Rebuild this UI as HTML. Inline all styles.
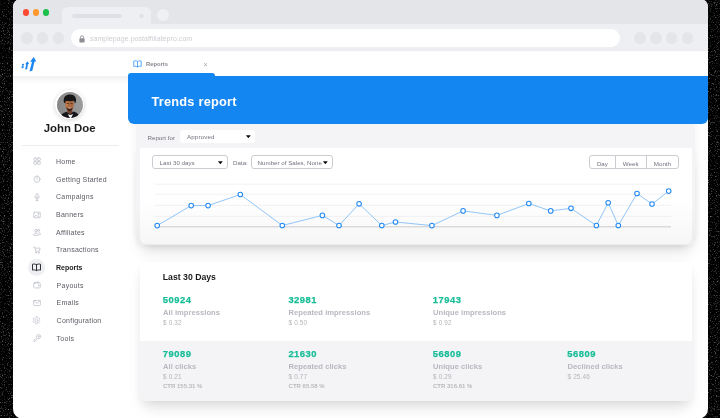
<!DOCTYPE html>
<html>
<head>
<meta charset="utf-8">
<style>
*{box-sizing:border-box;margin:0;padding:0}
html,body{width:720px;height:418px;overflow:hidden;background:#000;font-family:"Liberation Sans",sans-serif;}
#win{position:absolute;left:13px;top:-1px;width:694.8px;height:420px;border-radius:8px 8px 10px 10px;background:#fff;overflow:hidden;}
#in{will-change:transform;position:absolute;left:-13px;top:1px;width:720px;height:418px;}
.a{position:absolute;}
.c{position:absolute;border-radius:50%;}
.t{position:absolute;white-space:nowrap;line-height:1;}
.mi{position:absolute;left:56px;font-size:7px;letter-spacing:.25px;color:#5a5c63;white-space:nowrap;line-height:8px;height:8px;}
.ic{position:absolute;left:32.5px;width:8px;height:8px;overflow:visible;}
.ic *{fill:none;stroke:#bec0ca;stroke-width:.85;stroke-linecap:round;stroke-linejoin:round}
.num{position:absolute;font-weight:bold;font-size:9.4px;letter-spacing:.5px;color:#17bd97;-webkit-text-stroke:.25px #17bd97;line-height:10px;white-space:nowrap;}
.lab{position:absolute;font-weight:bold;font-size:7.6px;letter-spacing:.03px;color:#b7b9c1;line-height:9px;white-space:nowrap;}
.sm{position:absolute;font-size:6.4px;letter-spacing:.15px;color:#b6b6ba;line-height:7px;white-space:nowrap;}
.sel{position:absolute;border:.75px solid #cbccd2;border-radius:3px;background:#fff;font-size:6.2px;color:#70737c;line-height:12.6px;padding-top:.9px;white-space:nowrap;}
</style>
</head>
<body>
<svg style="position:absolute;left:0;top:0" width="720" height="418"><defs><filter id="nz" x="0" y="0" width="100%" height="100%" color-interpolation-filters="sRGB"><feTurbulence type="fractalNoise" baseFrequency=".85" numOctaves="2" seed="7" result="t"/><feColorMatrix in="t" type="matrix" values="0 0 0 0 .42  0 0 0 0 .42  0 0 0 0 .42  3.2 0 0 0 -1.76"/></filter></defs><rect width="720" height="418" filter="url(#nz)"/></svg>
<div id="win"><div id="in">

<!-- browser chrome -->
<div class="a" style="left:0;top:-2px;width:720px;height:25.7px;background:#e4e5e9"></div>
<div class="a" style="left:0;top:23.7px;width:720px;height:27.8px;background:#eeeff3"></div>
<div class="a" style="left:62px;top:7px;width:89px;height:17px;background:#eeeff3;border-radius:6px 6px 0 0"></div>
<div class="a" style="left:72.3px;top:14.2px;width:49.7px;height:3.4px;border-radius:2px;background:#dfe0e5"></div>
<div class="c" style="left:139.4px;top:13.7px;width:4.4px;height:4.4px;background:#e1e2e7"></div>
<div class="c" style="left:157.3px;top:8.8px;width:11.8px;height:11.8px;background:#eff0f3"></div>
<div class="c" style="left:22.7px;top:9.1px;width:6.6px;height:6.6px;background:#fe4a32"></div>
<div class="c" style="left:32.7px;top:9.1px;width:6.6px;height:6.6px;background:#fe982d"></div>
<div class="c" style="left:42.5px;top:9.1px;width:6.6px;height:6.6px;background:#1dc14a"></div>
<div class="c" style="left:20.8px;top:32.3px;width:11.8px;height:11.8px;background:#e4e5e9"></div>
<div class="c" style="left:36.6px;top:32.3px;width:11.8px;height:11.8px;background:#e4e5e9"></div>
<div class="c" style="left:52.5px;top:32.3px;width:11.8px;height:11.8px;background:#e4e5e9"></div>
<div class="a" style="left:71px;top:29.2px;width:549px;height:18.3px;border-radius:9.2px;background:#fff"></div>
<svg class="a" style="left:78.9px;top:34.6px" width="6" height="8" viewBox="0 0 6 8"><rect x="0.4" y="3.2" width="5.2" height="4.2" rx=".6" fill="#8e8f94"/><path d="M1.5 3.4V2.3a1.5 1.5 0 0 1 3 0V3.4" fill="none" stroke="#8e8f94" stroke-width=".9"/></svg>
<div class="t" style="left:90px;top:35.4px;font-size:7px;letter-spacing:.05px;color:#cdced3">samplepage.postaffiliatepro.com</div>
<div class="c" style="left:634.2px;top:32.4px;width:11.6px;height:11.6px;background:#e4e5e9"></div>
<div class="c" style="left:650px;top:32.4px;width:11.6px;height:11.6px;background:#e4e5e9"></div>
<div class="c" style="left:665.8px;top:32.4px;width:11.6px;height:11.6px;background:#e4e5e9"></div>
<div class="c" style="left:681.7px;top:32.4px;width:11.6px;height:11.6px;background:#e4e5e9"></div>

<!-- app header strip -->
<div class="a" style="left:0;top:51.5px;width:720px;height:24.3px;background:#fff;box-shadow:0 3px 7px rgba(0,0,0,.075)"></div>
<svg class="a" style="left:20px;top:56px" width="18" height="17" viewBox="0 0 18 17">
<g fill="#1a86f0">
<path d="M2.100 8.100l2-.300-.3 1.600-2 .3zM1.800 10.300l2-.300-.350 2-2 .3z"/>
<path d="M7.400 5.300L9.100 8.100 8 8.100 7.100 13.200 5.200 13.600 6.200 8.200 5.200 8.300z"/>
<path d="M13.700 1L16.300 5.600 14.500 5.600 12.300 14.800 9.500 15.500 12 5.700 10 5.800z"/>
</g></svg>

<!-- tab -->
<svg class="a" style="left:133px;top:59.6px" width="9" height="8" viewBox="0 0 9 8"><path d="M4.5 1.5C3.6.8 2.2.7.8 1v5.4c1.4-.3 2.8-.2 3.7.5.9-.7 2.3-.8 3.7-.5V1C6.8.7 5.4.8 4.500 1.500zM4.500 1.500V7.400" fill="none" stroke="#2a8ef2" stroke-width=".75" stroke-linejoin="round"/></svg>
<div class="t" style="left:146px;top:61.6px;font-size:5.8px;font-weight:bold;letter-spacing:0;color:#85888f">Reports</div>
<div class="t" style="left:203.4px;top:61px;font-size:7px;color:#a4a6ad">×</div>

<!-- sidebar -->
<div class="c" style="left:55px;top:89.5px;width:29px;height:29px;background:#fff;box-shadow:0 1px 4px rgba(0,0,0,.18)"></div>
<svg class="a" style="left:56.66px;top:91.5px" width="26" height="26" viewBox="0 0 26 26">
<defs><clipPath id="av"><circle cx="13" cy="13" r="13"/></clipPath><filter id="bl" x="-20%" y="-20%" width="140%" height="140%"><feGaussianBlur stdDeviation=".45"/></filter>
<linearGradient id="bgv" x1="0" x2="1"><stop offset="0" stop-color="#868686"/><stop offset="1" stop-color="#9c9c9c"/></linearGradient></defs>
<g clip-path="url(#av)">
<rect width="26" height="26" fill="url(#bgv)"/>
<g filter="url(#bl)">
<path d="M3.500 27c.3-4.200 2.300-6.300 6-7.200l3.400 1.600 3.800-1.900c3.600 1 5.600 3.200 6 7.500z" fill="#19191b"/>
<path d="M10.900 22.300l2.600 4.700 2.600-4.900-2.500 1z" fill="#f6f6f6"/>
<path d="M10.300 16h5v4.200l-2.300 2.200-2.700-2.200z" fill="#6e3f2a"/>
<path d="M8.200 10.500c0-2 1.500-3 4.400-3 2.800 0 4.300 1 4.300 3.200 0 2.400-.5 5-1.600 6.600-.8 1.200-1.800 1.900-2.900 1.900-1.200 0-2.200-.8-2.900-2.100-.9-1.700-1.300-4.300-1.300-6.600z" fill="#ab6840"/>
<path d="M8.500 12c.2-1.500 1-2.300 2.200-2.300.6 1.800.3 4-1 5.600-.7-.9-1.200-2-1.200-3.300z" fill="#c47a48"/>
<path d="M9.300 15.300c.8 1 2 1.300 3.300 1.300 1.400 0 2.400-.4 3.100-1.200-.3 1.700-1.400 3.800-3.200 3.800-1.700 0-2.800-2-3.200-3.900z" fill="#3a2218"/>
<path d="M10.600 15.800c.6.500 1.300.6 2 .6.800 0 1.400-.1 1.900-.6-.5-.3-1.200-.4-1.900-.4-.8 0-1.400.1-2 .4z" fill="#cdb5a6"/>
<path d="M6.900 10.300c-.7-4.200.9-7.500 5.800-7.700 5-.2 7 3.200 6.200 7.400l-1.100 1.400c-.1-1.300-.4-2.100-1-2.600-2.500.5-5.100.5-7.500 0-.7.500-1 1.400-1.100 2.800z" fill="#121212"/>
<path d="M9.700 11.500h2M13.500 11.500h2" stroke="#2a1810" stroke-width=".7"/>
</g>
</g></svg>
<div class="t" style="left:19.600px;top:123.3px;width:100px;text-align:center;font-size:11.4px;font-weight:bold;color:#1b1b1d">John Doe</div>
<div class="a" style="left:22px;top:144.7px;width:96.500px;height:1px;background:#ececf0"></div>

<div class="c" style="left:27.900px;top:259px;width:17.200px;height:17.200px;background:#eeeff3"></div>

<!-- icons -->
<svg class="ic" style="top:157.2px" viewBox="0 0 9 9"><rect x="1" y="1" width="3" height="3" rx="1.300"/><rect x="5.200" y="1" width="3" height="3" rx=".5"/><rect x="1" y="5.200" width="3" height="3" rx=".5"/><rect x="5.200" y="5.200" width="3" height="3" rx=".5"/></svg>
<svg class="ic" style="top:175.1px" viewBox="0 0 9 9"><circle cx="4.500" cy="4.800" r="3.400"/><path d="M4.500 2.800v2.200M4.500 1V.6"/></svg>
<svg class="ic" style="top:192.9px" viewBox="0 0 9 9"><rect x="3.300" y=".8" width="2.400" height="4.400" rx="1.200"/><path d="M2 4.200c0 3.200 5 3.200 5 0M4.500 6.600v1.800M3.300 8.400h2.400"/></svg>
<svg class="ic" style="top:210.5px" viewBox="0 0 9 9"><rect x=".8" y="1.400" width="7.400" height="6.200" rx=".8"/><path d="M1.600 6.600l1.800-2 1.400 1.400 1-.8 1.400 1.400"/><circle cx="6" cy="3.300" r=".5"/></svg>
<svg class="ic" style="top:228.4px" viewBox="0 0 9 9"><circle cx="3.400" cy="3" r="1.500"/><path d="M.8 7.800c0-3 5.200-3 5.200 0z"/><circle cx="6.300" cy="2.600" r="1.200"/><path d="M6.800 5c1 .2 1.600 1 1.600 2.200h-1.400"/></svg>
<svg class="ic" style="top:245.8px" viewBox="0 0 9 9"><path d="M.6 1.200h1.400l1 4.600h4.200l.8-3.400h-5.400"/><circle cx="3.400" cy="7.500" r=".6"/><circle cx="6.700" cy="7.500" r=".6"/></svg>
<svg class="ic" style="top:263.1px;left:32px;width:9px;height:9px" viewBox="0 0 9 9"><path d="M4.500 1.700C3.500 1 2.100.9.500 1.200v5.900c1.600-.3 3-.2 4 .5 1-.7 2.400-.8 4-.5V1.200C6.900.9 5.500 1 4.500 1.700zM4.500 1.700V7.600" style="stroke:#26262a;stroke-width:.95"/></svg>
<svg class="ic" style="top:281.4px" viewBox="0 0 9 9"><rect x=".8" y="2.200" width="7.400" height="5.600" rx=".9"/><path d="M1.400 2.200l4.800-1.200v1.200"/><circle cx="6.500" cy="5" r=".35"/></svg>
<svg class="ic" style="top:298.8px" viewBox="0 0 9 9"><rect x=".7" y="1.600" width="7.600" height="5.800" rx=".8"/><path d="M.9 2l3.600 2.900 3.600-2.900"/></svg>
<svg class="ic" style="top:316.3px;left:32px;width:9px;height:9px" viewBox="0 0 9 9"><circle cx="4.500" cy="4.500" r="1.300" style="stroke-width:.6"/><path style="stroke-width:.6" d="M3.900 .8l-.3 1.100-.8.450-1.100-.3-.600 1.050.8.800v.9l-.8.800.600 1.050 1.100-.3.800.45.300 1.100h1.200l.3-1.100.8-.45 1.100.3.600-1.050-.8-.8v-.9l.8-.8-.6-1.050-1.100.3-.8-.45-.3-1.100z"/></svg>
<svg class="ic" style="top:334.3px" viewBox="0 0 9 9"><path d="M1 8l.2-1.300 3.100-3a2.200 2.200 0 1 1 1.300 1.300l-3.100 3z"/><circle cx="6.300" cy="2.900" r=".5"/></svg>

<div class="mi" style="top:157.9px">Home</div>
<div class="mi" style="top:175.8px">Getting Started</div>
<div class="mi" style="top:193.2px">Campaigns</div>
<div class="mi" style="top:211.2px">Banners</div>
<div class="mi" style="top:229.1px">Affiliates</div>
<div class="mi" style="top:246.2px">Transactions</div>
<div class="mi" style="top:264.3px;font-weight:bold;color:#1d1d20;letter-spacing:0">Reports</div>
<div class="mi" style="top:282.1px;left:56.6px">Payouts</div>
<div class="mi" style="top:299.2px;left:56.6px">Emails</div>
<div class="mi" style="top:317.2px;left:56.6px">Configuration</div>
<div class="mi" style="top:335.0px;left:56.6px">Tools</div>

<!-- panel 1 -->
<div class="a" style="left:138px;top:150px;width:555.600px;height:94.500px;border-radius:0 0 7px 7px;box-shadow:0 10px 15px -4px rgba(0,0,0,.125),0 2px 9px 1px rgba(0,0,0,.05)"></div>
<div class="a" style="left:135.700px;top:100px;width:559.300px;height:145px;border-radius:0 0 9px 9px;background:linear-gradient(to bottom,#f4f4f6 75%,#ebebec);box-shadow:0 0 9px rgba(0,0,0,.06)"></div>
<div class="a" style="left:140px;top:148.100px;width:551.600px;height:96.400px;background:linear-gradient(to bottom,#fff 55%,#f6f6f6);border-radius:0 0 6px 6px"></div>

<!-- blue header -->
<div class="a" style="left:127.600px;top:73px;width:87.500px;height:10px;background:#1386f1;border-radius:3px 3px 0 0"></div>
<div class="a" style="left:127.600px;top:75.800px;width:580.200px;height:48.200px;background:#1386f1;border-radius:0 0 6px 6px"></div>
<div class="t" style="left:151.400px;top:96.300px;font-size:12.800px;font-weight:bold;letter-spacing:.22px;color:#fff">Trends report</div>

<!-- filters -->
<div class="t" style="left:147.500px;top:135px;font-size:6.200px;color:#70737c">Report for</div>
<div class="a" style="left:180px;top:129.800px;width:75.200px;height:13.400px;background:#fff;border-radius:3px"></div>
<div class="t" style="left:187px;top:134.400px;font-size:6.200px;letter-spacing:.15px;color:#70737c">Approved</div>
<svg class="a" style="left:246.450px;top:134.950px" width="4.700" height="3.300" viewBox="0 0 6 4"><path d="M.5.300h5a.3.300 0 0 1 .25.500L3.300 3.700a.4.400 0 0 1-.6 0L.25.800A.3.300 0 0 1 .5.300z" fill="#111"/></svg>

<div class="sel" style="left:152px;top:155px;width:75.600px;height:14px;padding-left:6.600px">Last 30 days</div>
<svg class="a" style="left:218.450px;top:160.750px" width="4.700" height="3.300" viewBox="0 0 6 4"><path d="M.5.300h5a.3.300 0 0 1 .25.500L3.300 3.700a.4.400 0 0 1-.6 0L.25.800A.3.300 0 0 1 .5.300z" fill="#111"/></svg>
<div class="t" style="left:233px;top:159.800px;font-size:6.200px;color:#70737c">Data:</div>
<div class="sel" style="left:251px;top:155px;width:81.700px;height:14px;padding-left:5.600px">Number of Sales, None</div>
<svg class="a" style="left:323.250px;top:160.750px" width="4.700" height="3.300" viewBox="0 0 6 4"><path d="M.5.300h5a.3.300 0 0 1 .25.500L3.300 3.700a.4.400 0 0 1-.6 0L.25.800A.3.300 0 0 1 .5.300z" fill="#111"/></svg>

<div class="sel" style="left:589.400px;top:155px;width:89.600px;height:14px;"></div>
<div class="a" style="left:615px;top:155px;width:.8px;height:14px;background:#cbccd2"></div>
<div class="a" style="left:645.600px;top:155px;width:.8px;height:14px;background:#cbccd2"></div>
<div class="t" style="left:589.400px;top:160.700px;width:26px;text-align:center;font-size:6.200px;color:#70737c">Day</div>
<div class="t" style="left:615.400px;top:160.700px;width:30.600px;text-align:center;font-size:6.200px;color:#70737c">Week</div>
<div class="t" style="left:646px;top:160.700px;width:32.800px;text-align:center;font-size:6.200px;color:#70737c">Month</div>

<!-- chart -->
<svg class="a" style="left:0;top:0" width="720" height="418" viewBox="0 0 720 418">
<g stroke="#efeff2" stroke-width=".8">
<path d="M155 184.200H671M155 194.300H671M155 205.400H671M155 216.400H671"/>
</g>
<path d="M155 226.800H671" stroke="#dadadc" stroke-width="1.400"/>
<polyline fill="none" stroke="#63aef5" stroke-width=".7" points="157.200,225.600 191.200,205.600 208.100,205.600 240.300,194.500 282.300,225.500 322.400,215.400 339,225.500 359.100,203.800 381.800,225.500 395.500,222 431.900,225.600 463.100,210.900 496.900,215.400 528.800,203.500 550.700,210.900 571,208.300 596.400,225.500 608.200,202.700 618.300,225.500 637,193.500 652,204 668.700,191.100"/>
<g fill="#fff" stroke="#2389f2" stroke-width="1.050">
<circle cx="157.200" cy="225.600" r="2.300"/><circle cx="191.200" cy="205.600" r="2.300"/><circle cx="208.100" cy="205.600" r="2.300"/><circle cx="240.300" cy="194.500" r="2.300"/><circle cx="282.300" cy="225.500" r="2.300"/><circle cx="322.400" cy="215.400" r="2.300"/><circle cx="339" cy="225.500" r="2.300"/><circle cx="359.100" cy="203.800" r="2.300"/><circle cx="381.800" cy="225.500" r="2.300"/><circle cx="395.500" cy="222" r="2.300"/><circle cx="431.900" cy="225.600" r="2.300"/><circle cx="463.100" cy="210.900" r="2.300"/><circle cx="496.900" cy="215.400" r="2.300"/><circle cx="528.800" cy="203.500" r="2.300"/><circle cx="550.700" cy="210.900" r="2.300"/><circle cx="571" cy="208.300" r="2.300"/><circle cx="596.400" cy="225.500" r="2.300"/><circle cx="608.200" cy="202.700" r="2.300"/><circle cx="618.300" cy="225.500" r="2.300"/><circle cx="637" cy="193.500" r="2.300"/><circle cx="652" cy="204" r="2.300"/><circle cx="668.700" cy="191.100" r="2.300"/>
</g>
</svg>

<!-- panel 2 -->
<div class="a" style="left:140px;top:262px;width:551.600px;height:138.800px;background:#fff;border-radius:6px;box-shadow:0 10px 15px -4px rgba(0,0,0,.125),0 3px 10px rgba(0,0,0,.05);overflow:hidden">
<div class="a" style="left:0;top:78.600px;width:552px;height:61px;background:#f4f4f6"></div>
</div>
<div class="t" style="left:162.800px;top:273px;font-size:8.700px;font-weight:bold;color:#18181b">Last 30 Days</div>

<div class="num" style="left:162.800px;top:294.900px">50924</div>
<div class="lab" style="left:163px;top:308px">All impressions</div>
<div class="sm" style="left:163px;top:318.700px">$ 0.32</div>

<div class="num" style="left:288.400px;top:294.900px">32981</div>
<div class="lab" style="left:288.600px;top:308px">Repeated impressions</div>
<div class="sm" style="left:288.600px;top:318.700px">$ 0.50</div>

<div class="num" style="left:432.800px;top:294.900px">17943</div>
<div class="lab" style="left:433px;top:308px">Unique impressions</div>
<div class="sm" style="left:433px;top:318.700px">$ 0.92</div>

<div class="num" style="left:162.800px;top:349.400px">79089</div>
<div class="lab" style="left:163px;top:362.200px">All clicks</div>
<div class="sm" style="left:163px;top:372.700px">$ 0.21</div>
<div class="sm" style="left:163px;top:383px;font-size:6px;font-weight:bold;letter-spacing:0;color:#b9b9bd">CTR 155.31 %</div>

<div class="num" style="left:288.400px;top:349.400px">21630</div>
<div class="lab" style="left:288.600px;top:362.200px">Repeated clicks</div>
<div class="sm" style="left:288.600px;top:372.700px">$ 0.77</div>
<div class="sm" style="left:288.600px;top:383px;font-size:6px;font-weight:bold;letter-spacing:0;color:#b9b9bd">CTR 65.58 %</div>

<div class="num" style="left:432.800px;top:349.400px">56809</div>
<div class="lab" style="left:433px;top:362.200px">Unique clicks</div>
<div class="sm" style="left:433px;top:372.700px">$ 0.29</div>
<div class="sm" style="left:433px;top:383px;font-size:6px;font-weight:bold;letter-spacing:0;color:#b9b9bd">CTR 316.61 %</div>

<div class="num" style="left:567.300px;top:349.400px">56809</div>
<div class="lab" style="left:567.500px;top:362.200px">Declined clicks</div>
<div class="sm" style="left:567.500px;top:372.700px">$ 25.46</div>

</div></div>
</body>
</html>
